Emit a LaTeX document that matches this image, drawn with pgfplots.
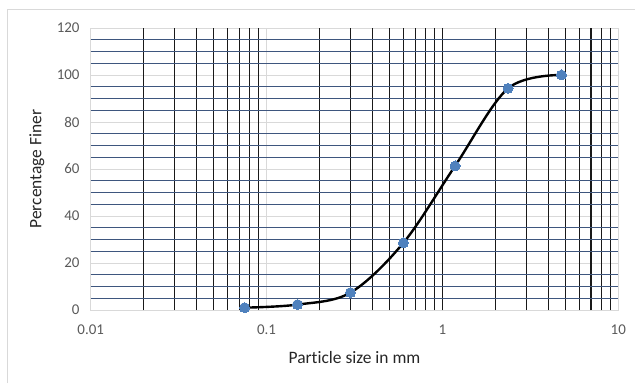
\documentclass[border=0pt]{standalone}
\usepackage{pgfplots}
\pgfplotsset{compat=1.18}
\usepackage{fontspec}
\setmainfont{Carlito}[Ligatures=NoCommon]
\definecolor{gridgray}{RGB}{217,217,217}
\definecolor{hblue}{RGB}{62,86,126}
\definecolor{mblue}{RGB}{79,129,189}
\definecolor{ticklab}{RGB}{89,89,89}
\begin{document}
\begin{tikzpicture}[x=1bp,y=1bp]
\path[use as bounding box] (0,0) rectangle (635,383);
\draw[gridgray, line width=1bp] (7.3,0) -- (7.3,373.7) -- (635,373.7);
\begin{axis}[
  at={(90.7bp,73bp)}, anchor=south west,
  scale only axis, width=527.6bp, height=282bp,
  xmode=log, xmin=0.01, xmax=10, ymin=0, ymax=120,
  xtick={0.01,0.1,1,10}, xticklabels={0.01,0.1,1,10},
  ytick={0,20,40,60,80,100,120},
  /pgf/number format/assume math mode=true,
  major tick length=0pt, minor tick num=0,
  xminorticks=false,
  grid=major,
  major grid style={gridgray, line width=0.9bp},
  axis line style={gridgray, line width=0.9bp},
  ticklabel style={font=\fontsize{15}{17}\selectfont, text=ticklab},
  xticklabel style={anchor=north, inner sep=0pt, yshift=-15bp},
  yticklabel style={anchor=east, inner sep=0pt, xshift=-11bp},
  extra x ticks={0.02,0.03,0.04,0.05,0.06,0.07,0.08,0.09,0.2,0.3,0.4,0.5,0.6,0.7,0.8,0.9,1,2,3,4,5,6,7,8,9},
  extra x tick labels={},
  extra x tick style={grid=major, major grid style={black!90, line width=1.2bp}},
  extra y ticks={5,10,15,25,30,35,45,50,55,65,70,75,85,90,95,105,110,115},
  extra y tick labels={},
  extra y tick style={grid=major, major grid style={hblue, line width=1.3bp}},
  xlabel={Particle size in mm},
  ylabel={Percentage Finer},
  label style={font=\fontsize{17.5}{20}\selectfont, text=black!85},
  xlabel style={at={(axis description cs:0.5,-0.1667)}, anchor=center},
  ylabel style={at={(axis description cs:-0.1018,0.5)}, anchor=center},
  clip=false,
]
\addplot[black, line width=2.4bp, smooth, tension=0.55, mark=*, mark size=5bp,
  mark options={fill=mblue, draw=mblue, line width=0pt}]
  coordinates {(0.075,1) (0.15,2.3) (0.3,7.4) (0.6,28.6) (1.18,61.3) (2.36,94.3) (4.75,100)};
\end{axis}
\end{tikzpicture}
\end{document}
